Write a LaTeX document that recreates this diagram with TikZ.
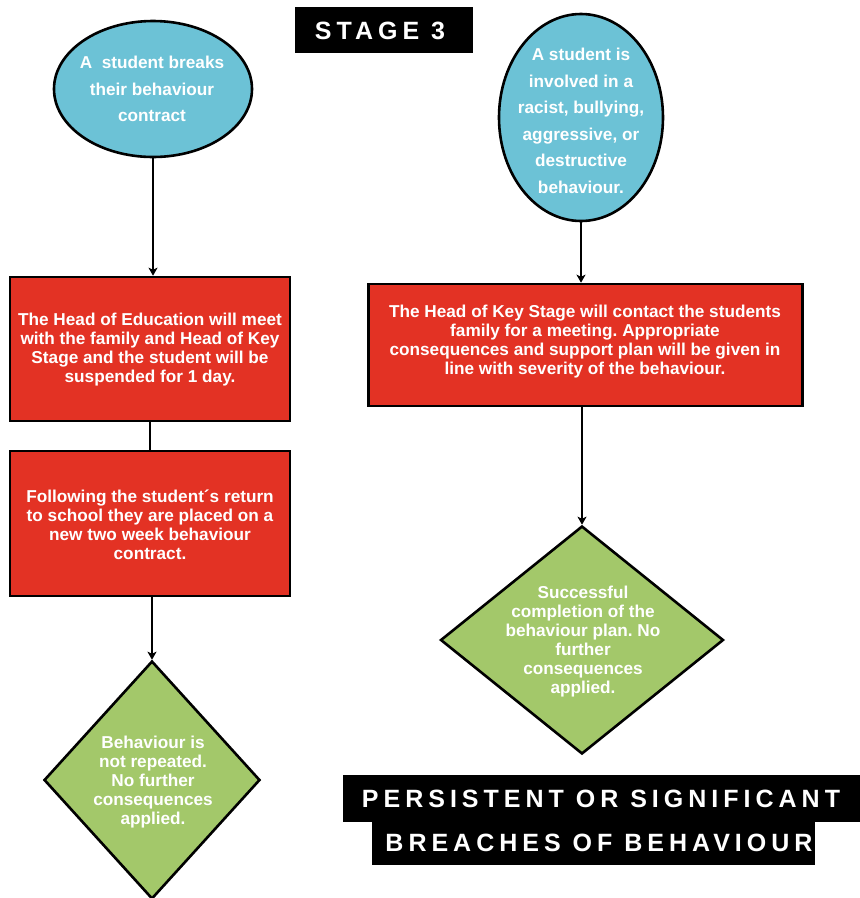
\documentclass[tikz,border=0pt]{standalone}
\usepackage{fontspec}
\usetikzlibrary{shapes.geometric,arrows.meta}
\newfontfamily\bodyfont{Liberation Sans}
\newfontfamily\headfont{Liberation Sans}[LetterSpace=20]
\definecolor{skyfill}{RGB}{108,194,214}
\definecolor{boxred}{RGB}{227,50,36}
\definecolor{leafgreen}{RGB}{163,200,106}
\frenchspacing
\begin{document}
\begin{tikzpicture}[x=1pt,y=-1pt,
  shapeline/.style={draw=black,line width=2.6pt},
  startshape/.style={shapeline,ellipse,fill=skyfill,inner sep=0pt},
  actionbox/.style={shapeline,rectangle,fill=boxred,inner sep=0pt},
  endshape/.style={shapeline,diamond,fill=leafgreen,inner sep=0pt},
  bodytext/.style={text=white,align=center,inner sep=0pt,font=\bodyfont\bfseries\fontsize{17.2}{19}\selectfont},
  ovaltext/.style={bodytext,font=\bodyfont\bfseries\fontsize{17.2}{26.5}\selectfont},
  flow/.style={line width=1.6pt,-{Stealth[length=8pt,width=9pt,inset=2pt]}},
  joiner/.style={line width=1.6pt},
  banner/.style={fill=black,draw=none,inner sep=0pt},
  bannertext/.style={text=white,inner sep=0pt,font=\headfont\bfseries\fontsize{25}{25}\selectfont}
]
\useasboundingbox (0,0) rectangle (860,898);
\fill[white] (0,0) rectangle (860,898);

% headings
\node[banner,minimum width=178pt,minimum height=46pt] (title) at (384,30) {};
\node[bannertext] (titletext) at (380,30.5) {STAGE 3};

\node[banner,minimum width=527pt,minimum height=47pt] (bannerA) at (606,798.5) {};
\node[banner,minimum width=443pt,minimum height=43pt] (bannerB) at (593.5,843.5) {};
\node[bannertext] (bannerAtext) at (601,799) {PERSISTENT OR SIGNIFICANT};
\node[bannertext] (bannerBtext) at (599,843) {BREACHES OF BEHAVIOUR};

% left column
\node[startshape,minimum width=198pt,minimum height=136pt] (s1) at (153,89) {};
\node[ovaltext] (s1text) at (152,89) {A~~student breaks\\their behaviour\\contract};

\node[actionbox,minimum width=280pt,minimum height=144pt] (b1) at (150,349) {};
\node[bodytext] (b1text) at (150,350) {The Head of Education will meet\\with the family and Head of Key\\Stage and the student will be\\suspended for 1 day.};

\node[actionbox,minimum width=280pt,minimum height=145pt] (b2) at (150,523.5) {};
\node[bodytext] (b2text) at (150,525) {Following the student´s return\\to school they are placed on a\\new two week behaviour\\contract.};

\node[endshape,minimum width=216pt,minimum height=238pt] (d1) at (152,780) {};
\node[bodytext] (d1text) at (153,782) {Behaviour is\\not repeated.\\No further\\consequences\\applied.};

% right column
\node[startshape,minimum width=164pt,minimum height=207pt] (s2) at (581,117.5) {};
\node[ovaltext] (s2text) at (581,121) {A student is\\involved in a\\racist, bullying,\\aggressive, or\\destructive\\behaviour.};

\node[actionbox,minimum width=434pt,minimum height=122pt] (b3) at (585.5,345) {};
\node[bodytext] (b3text) at (585,342) {The Head of Key Stage will contact the students\\family for a meeting. Appropriate\\consequences and support plan will be given in\\line with severity of the behaviour.};

\node[endshape,minimum width=283pt,minimum height=228pt] (d2) at (582,640) {};
\node[bodytext] (d2text) at (583,642) {Successful\\completion of the\\behaviour plan. No\\further\\consequences\\applied.};

% connectors
\draw[flow] (s1.south) -- (s1.south |- b1.north);
\draw[joiner] (b1.south) -- (b2.north);
\draw[flow] (b2.south -| d1.north) -- (d1.north);
\draw[flow] (s2.south) -- (s2.south |- b3.north);
\draw[flow] (b3.south -| d2.north) -- (d2.north);
\end{tikzpicture}
\end{document}
